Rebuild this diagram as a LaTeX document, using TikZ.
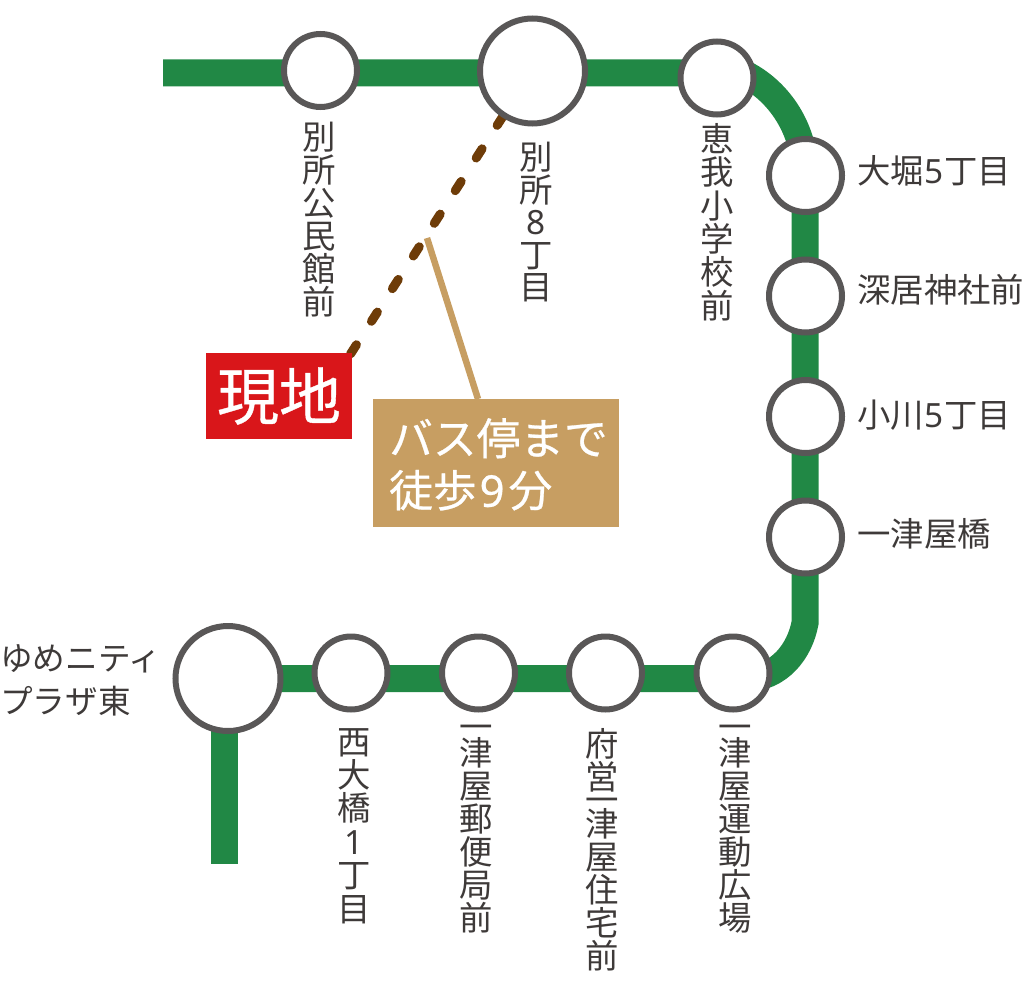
\documentclass[tikz,border=0pt]{standalone}
\usepackage{fontspec}
\newfontfamily\cjk{Noto Sans CJK JP}
\newfontfamily\cjkb[FakeBold=0.6]{Noto Sans CJK JP}
\newfontfamily\ltn{Noto Sans}
\newfontfamily\ltnb[FakeBold=0.6]{Noto Sans}
\definecolor{gr}{HTML}{218845}
\definecolor{ring}{HTML}{595757}
\definecolor{ink}{HTML}{3E3A39}
\definecolor{tan}{HTML}{C79E62}
\definecolor{red1}{HTML}{D9161A}
\definecolor{br}{HTML}{6E3C08}
\begin{document}
\begin{tikzpicture}[x=1pt,y=-1pt,
 st/.style={circle,draw=ring,line width=6pt,fill=white,inner sep=0pt,minimum size=#1},
 lab/.style={font=\cjk\fontsize{33.4}{33}\selectfont,text=ink,inner sep=0pt},
 vlab/.style={font=\cjk\fontsize{33.4}{33}\selectfont,text=ink,inner sep=0pt,align=center,anchor=north}]
\useasboundingbox (0,0) rectangle (1024,992);
\coordinate (s) at (163,73);
\coordinate (e) at (224.5,864);
\coordinate (d0) at (532,71);
\coordinate (d1) at (346,361);
\draw[gr,line width=27pt] (s) -- (716,73) -- (745,74) .. controls (780,92) and (805,130) .. (805,175) -- (805,623) .. controls (800,650) and (780,678.5) .. (745,678.5) -- (228,678.5);
\draw[gr,line width=27pt] (224.5,679) -- (e);
\draw[br,line width=9pt,line cap=round,dash pattern=on 11pt off 27.8pt,dash phase=24pt] (d0) -- (d1);
\node[st=73pt] (a1) at (320.5,70.5) {};
\node[st=105pt] (a2) at (532.5,71) {};
\node[st=73pt] (a3) at (717,78) {};
\node[st=73pt] (b1) at (805.5,175.5) {};
\node[st=73pt] (b2) at (805.5,296) {};
\node[st=73pt] (b3) at (805.5,416.5) {};
\node[st=73pt] (b4) at (805.5,537) {};
\node[st=73pt] (c1) at (733,673) {};
\node[st=73pt] (c2) at (605.5,673) {};
\node[st=73pt] (c3) at (478.5,673) {};
\node[st=73pt] (c4) at (351,673) {};
\node[st=105pt] (c5) at (228,678.5) {};
\node[fill=red1,text=white,minimum width=146pt,minimum height=86pt,inner sep=0pt,font=\cjkb\fontsize{62}{62}\selectfont] (g) at (279,396) {現地};
\coordinate (p) at (427,238);
\draw[tan,line width=6.5pt] (p) -- (478,399);
\node[fill=tan,minimum width=246pt,minimum height=128pt,inner sep=0pt] (w) at (496,463) {};
\node[text=white,anchor=north west,inner sep=0pt,align=left,font=\cjkb\fontsize{43.7}{52}\selectfont] (wt) at (389,418) {バス停まで\\徒歩\hspace{3pt}{\ltnb 9}\hspace{4pt}分};
\node[vlab] (t1) at (319,122) {別\\所\\公\\民\\館\\前};
\node[vlab,font=\cjk\fontsize{33.4}{32.5}\selectfont] (t2) at (536,142) {別\\所\\{\ltn 8}\\丁\\目};
\node[vlab,font=\cjk\fontsize{33.4}{33.4}\selectfont] (t3) at (717,123) {恵\\我\\小\\学\\校\\前};
\node[lab,anchor=west] (t4) at (857,171) {大堀\hspace{0.5pt}{\ltn 5}\hspace{0.5pt}丁目};
\node[lab,anchor=west] (t5) at (857,290) {深居神社前};
\node[lab,anchor=west] (t6) at (857,415) {小川\hspace{0.5pt}{\ltn 5}\hspace{0.5pt}丁目};
\node[lab,anchor=west] (t7) at (857,534) {一津屋橋};
\node[vlab] (t8) at (735,725) {一\\[-7pt]津\\屋\\運\\動\\広\\場};
\node[vlab] (t9) at (602,728) {府\\営\\[-10pt]一\\[-9pt]津\\屋\\住\\宅\\前};
\node[vlab] (t10) at (476,725) {一\\[-7pt]津\\屋\\郵\\便\\局\\前};
\node[vlab,font=\cjk\fontsize{33.4}{33.4}\selectfont] (t11) at (354,728) {西\\大\\橋\\{\ltn 1}\\丁\\目};
\node[lab,anchor=north west,align=left,font=\cjk\fontsize{32.6}{43}\selectfont] (t12) at (0,644) {ゆめニティ\\プラザ東};
\end{tikzpicture}
\end{document}
